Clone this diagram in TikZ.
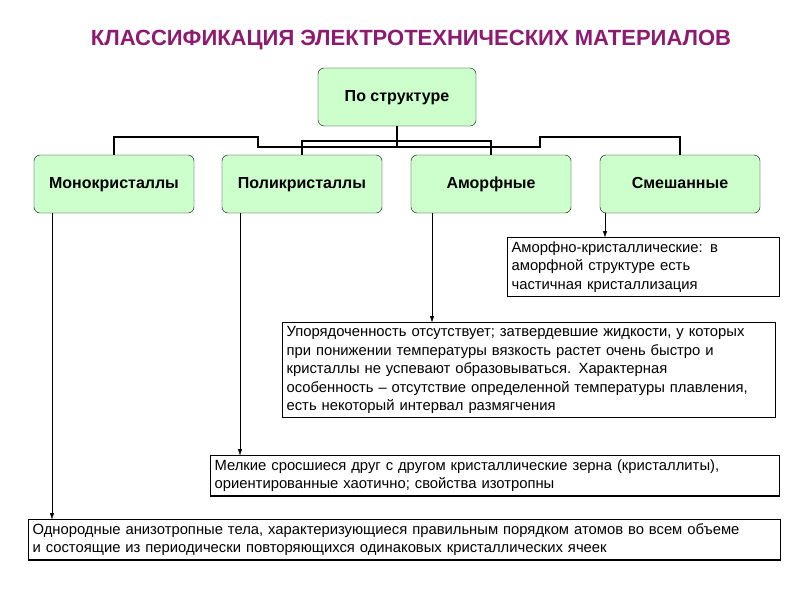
\documentclass[tikz,border=0pt]{standalone}
\usepackage{fontspec}
\setmainfont{Liberation Sans}
\usetikzlibrary{arrows.meta,positioning}
\definecolor{titlecol}{HTML}{8E1A70}
\definecolor{boxgreen}{HTML}{CCFFCC}
\newcommand{\jl}[2]{\makebox[#1][s]{#2}\\}

\begin{document}
\begin{tikzpicture}[x=1pt,y=-1pt,
  catbox/.style={draw,fill=boxgreen,rounded corners=6pt,minimum width=160pt,minimum height=58pt,text height=11pt,text depth=3pt,font=\bfseries\fontsize{16}{18}\selectfont},
  infobox/.style={draw,line width=1.2pt,anchor=north west,inner sep=4pt,align=left,font=\fontsize{14.8}{18.5}\selectfont},
  link/.style={line width=1.6pt},
  arr/.style={-{Triangle[length=6pt,width=4pt]},thin}]

  \useasboundingbox (0,0) rectangle (800,600);

  % title
  \node[font=\bfseries\fontsize{22}{24}\selectfont,text=titlecol] (title) at (411,40) {КЛАССИФИКАЦИЯ ЭЛЕКТРОТЕХНИЧЕСКИХ МАТЕРИАЛОВ};

  % tree
  \node[catbox,minimum width=158pt] (root) at (397,97) {По структуре};
  \node[catbox] (mono) at (114,184) {Монокристаллы};
  \node[catbox] (poly) at (302,184) {Поликристаллы};
  \node[catbox] (amor) at (491,184) {Аморфные};
  \node[catbox] (mixd) at (680,184) {Смешанные};

  \draw[link] (root.south) -- (root.south |- 0,147);
  \draw[link] (mono.north) -- (mono.north |- 0,137) -- (258,137) -- (258,147) -- (540,147) -- (540,137) -| (mixd.north);
  \draw[link] (poly.north) -- (poly.north |- 0,141) -| (amor.north);

  % descriptions
  \node[infobox,text width=264pt] (dmixd) at (507,237) {\jl{264pt}{Аморфно-кристаллические: в}\jl{264pt}{аморфной структуре есть}частичная кристаллизация};
  \node[infobox,text width=485pt] (damor) at (282,322) {\jl{485pt}{Упорядоченность отсутствует; затвердевшие жидкости, у которых}\jl{485pt}{при понижении температуры вязкость растет очень быстро и}\jl{485pt}{кристаллы не успевают образовываться. Характерная}\jl{485pt}{особенность – отсутствие определенной температуры плавления,}есть некоторый интервал размягчения};
  \node[infobox,text width=561pt] (dpoly) at (210,455) {Мелкие сросшиеся друг с другом кристаллические зерна (кристаллиты),\\ориентированные хаотично; свойства изотропны};
  \node[infobox,text width=744pt] (dmono) at (28,519) {Однородные анизотропные тела, характеризующиеся правильным порядком атомов во всем объеме\\и состоящие из периодически повторяющихся одинаковых кристаллических ячеек};

  % arrows
  \draw[arr] (mono.south -| 52,0) -- (dmono.north -| 52,0);
  \draw[arr] (poly.south -| 240,0) -- (dpoly.north -| 240,0);
  \draw[arr] (amor.south -| 432,0) -- (damor.north -| 432,0);
  \draw[arr] (mixd.south -| 605,0) -- (dmixd.north -| 605,0);
\end{tikzpicture}
\end{document}
